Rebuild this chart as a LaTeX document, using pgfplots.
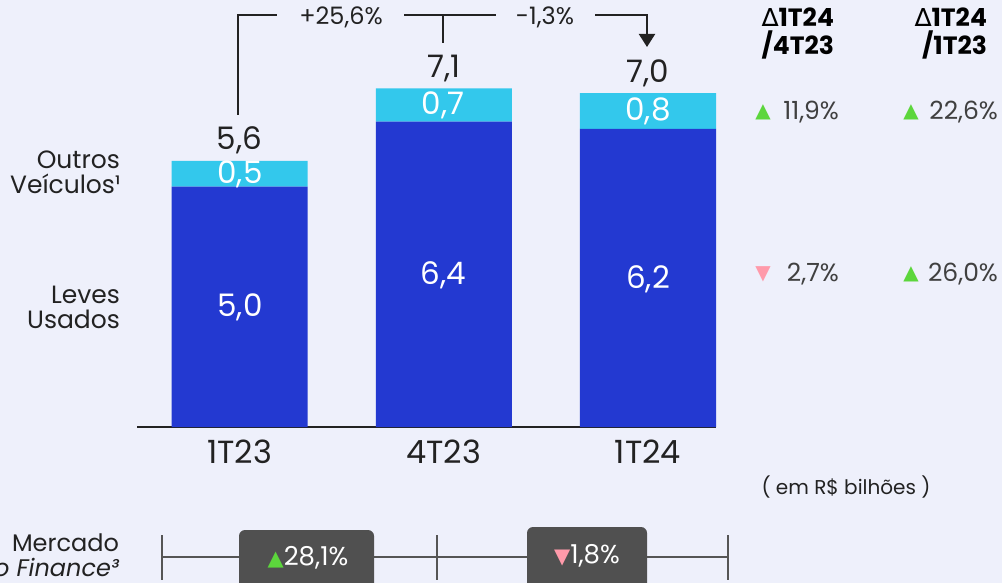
\documentclass[border=0pt]{standalone}
\usepackage{pgfplots}
\pgfplotsset{compat=1.18}
\usepackage{fontspec}
\setmainfont{Poppins}
\newfontfamily\dejavu{DejaVu Sans}
\usetikzlibrary{arrows.meta}
\definecolor{bgc}{HTML}{EEF0FB}
\definecolor{dblue}{HTML}{2339D1}
\definecolor{lblue}{HTML}{33C8EC}
\definecolor{txt}{HTML}{222222}
\definecolor{gtxt}{HTML}{404040}
\definecolor{upg}{HTML}{5CD63C}
\definecolor{dnp}{HTML}{FF9AAA}
\definecolor{boxg}{HTML}{505050}
\definecolor{linec}{HTML}{555555}
\newcommand{\up}{{\dejavu\fontsize{10}{10}\selectfont\color{upg}▲}}
\newcommand{\dn}{{\dejavu\fontsize{10}{10}\selectfont\color{dnp}▼}}
\newcommand{\fs}[1]{\fontsize{#1}{#1}\selectfont}
\begin{document}
\begin{tikzpicture}
\fill[bgc] (0,0) rectangle (501pt,-291.5pt);
\useasboundingbox (0,0) rectangle (501pt,-291.5pt);
\begin{axis}[at={(68.5pt,-213.5pt)}, anchor=south west,
  width=289.5pt, height=213.5pt, scale only axis,
  xmin=-0.502, xmax=2.333, ymin=0, ymax=8.95,
  axis x line*=bottom, axis y line=none, ytick=\empty,
  xtick={0,1,2}, xticklabels={1T23,4T23,1T24}, major tick length=0pt,
  x axis line style={line width=1pt, color=txt, -},
  xticklabel style={font=\fs{16}, text=txt, yshift=-3pt},
  ybar stacked, bar width=0.666, clip=false]
\addplot[fill=dblue, draw=none] coordinates {(0,5.04) (1,6.4) (2,6.25)};
\addplot[fill=lblue, draw=none] coordinates {(0,0.54) (1,0.7) (2,0.75)};
\node[txt, font=\fs{15.5}] at (axis cs:0,6.0) {5,6};
\node[txt, font=\fs{15.5}] at (axis cs:1,7.52) {7,1};
\node[txt, font=\fs{15.5}] at (axis cs:2,7.42) {7,0};
\end{axis}
\begin{scope}[x=0.5pt, y=-0.5pt]
% values inside bars
\node[white, font=\fs{15.5}] at (240,307) {5,0};
\node[white, font=\fs{15.5}] at (443,275) {6,4};
\node[white, font=\fs{15.5}] at (648,279) {6,2};
\node[white, font=\fs{15.5}] at (240,174) {0,5};
\node[white, font=\fs{15.5}] at (443,105) {0,7};
\node[white, font=\fs{15.5}] at (648,111) {0,8};
% top connectors
\draw[line width=1pt, txt] (238,115) -- (238,15) -- (277,15);
\draw[line width=1pt, txt] (404,15) -- (496,15);
\draw[line width=1pt, txt] (443,15) -- (443,43);
\draw[line width=1pt, txt, -{Triangle[length=6.5pt,width=8pt]}] (595,15) -- (647,15) -- (647,47);
\node[txt, font=\fs{12}] at (341,17) {+25,6\%};
\node[txt, font=\fs{12}] at (545,17) {-1,3\%};
% left labels
\node[txt, font=\fontsize{12.5}{12.5}\selectfont, align=right, anchor=east] at (127,172) {Outros\\Veículos¹};
\node[txt, font=\fontsize{12.5}{12.5}\selectfont, align=right, anchor=east] at (127,307) {Leves\\Usados};
% right column
\node[black, font=\fontsize{12.5}{14}\selectfont\bfseries, align=right, anchor=east] at (841,34) {{\dejavu\mdseries ∆}1T24\\/4T23};
\node[black, font=\fontsize{12.5}{14}\selectfont\bfseries, align=right, anchor=east] at (994,34) {{\dejavu\mdseries ∆}1T24\\/1T23};
\node at (763,112) {\up};
\node at (911,112) {\up};
\node at (763,274) {\dn};
\node at (911,274) {\up};
\node[gtxt, font=\fs{12.5}, anchor=east] at (846,112) {11,9\%};
\node[gtxt, font=\fs{12.5}, anchor=east] at (1005,112) {22,6\%};
\node[gtxt, font=\fs{12.5}, anchor=east] at (846,274) {2,7\%};
\node[gtxt, font=\fs{12.5}, anchor=east] at (1005,274) {26,0\%};
\node[txt, font=\fs{10}] at (846,487) {( em R\$ bilhões )};
% bottom timeline
\node[txt, font=\fontsize{12}{12.5}\selectfont, align=right, anchor=east] at (126,555) {Mercado\\\itshape Auto Finance³};
\draw[line width=0.8pt, linec] (162,557) -- (728,557);
\foreach \xx in {162,437,728} \draw[line width=0.8pt, linec] (\xx,535) -- (\xx,580);
\fill[boxg, rounded corners=3pt] (239,530) rectangle (374,600);
\fill[boxg, rounded corners=3pt] (527,527) rectangle (647,600);
\node[white, font=\fs{13}] at (308,558) {{\dejavu\fontsize{10.5}{10}\selectfont\color{upg}▲}28,1\%};
\node[white, font=\fs{13}] at (587,556) {{\dejavu\fontsize{10.5}{10}\selectfont\color{dnp}▼}1,8\%};
\end{scope}
\end{tikzpicture}
\end{document}
